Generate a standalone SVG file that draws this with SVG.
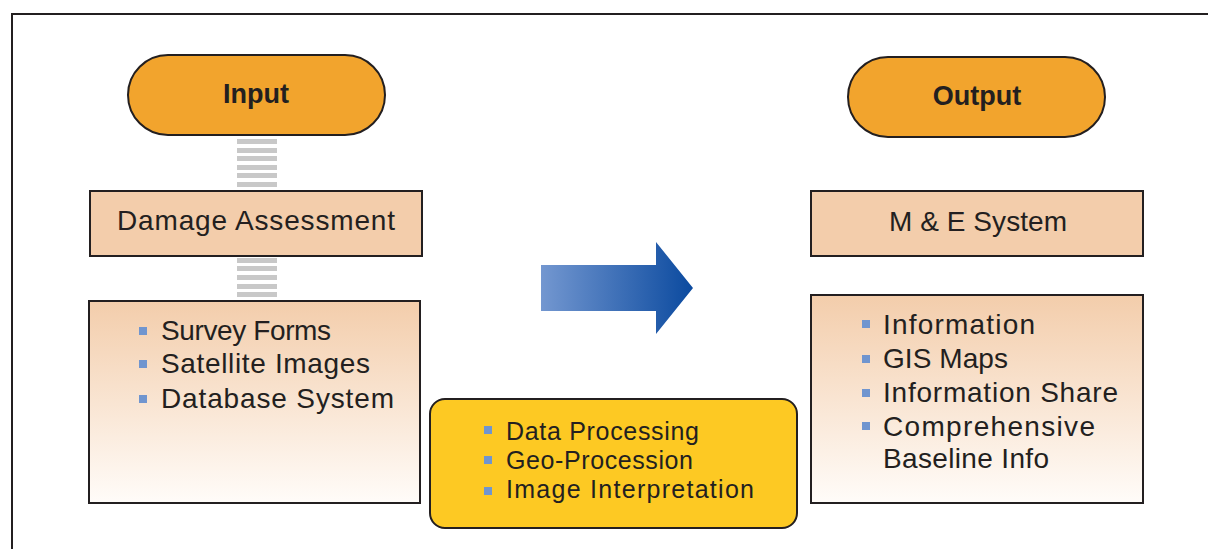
<svg xmlns="http://www.w3.org/2000/svg" width="1208" height="549" viewBox="0 0 1208 549">
<defs>
<linearGradient id="peach" x1="0" y1="0" x2="0" y2="1">
<stop offset="0" stop-color="#f3cdab"/>
<stop offset="1" stop-color="#fffcf9"/>
</linearGradient>
<linearGradient id="blue" x1="0" y1="0" x2="1" y2="0">
<stop offset="0" stop-color="#7397d0"/>
<stop offset="1" stop-color="#0b4a9f"/>
</linearGradient>
<style>
.frame{fill:none;stroke:#231f20;stroke-width:2}
.pill{fill:#f2a42d;stroke:#231f20;stroke-width:2}
.box{fill:#f3cdab;stroke:#231f20;stroke-width:2}
.gbox{fill:url(#peach);stroke:#231f20;stroke-width:2}
.ybox{fill:#fdc923;stroke:#231f20;stroke-width:2}
.stripe{fill:#c8c8c8}
.bul{fill:#7095cf}
text{font-family:"Liberation Sans",Arial,sans-serif;fill:#231f20}
.t{font-size:28px}
.ts{font-size:25px}
.tb{font-size:27px;font-weight:bold}
</style>
</defs>
<rect class="frame" x="12" y="14" width="1210" height="560"/>
<g id="connectors">
<g id="stripes-top">
<rect class="stripe" x="237" y="139" width="40" height="5"/>
<rect class="stripe" x="237" y="148" width="40" height="5"/>
<rect class="stripe" x="237" y="156" width="40" height="5"/>
<rect class="stripe" x="237" y="165" width="40" height="5"/>
<rect class="stripe" x="237" y="173" width="40" height="5"/>
<rect class="stripe" x="237" y="182" width="40" height="5"/>
</g>
<g id="stripes-bottom">
<rect class="stripe" x="237" y="258" width="40" height="5"/>
<rect class="stripe" x="237" y="266" width="40" height="5"/>
<rect class="stripe" x="237" y="275" width="40" height="5"/>
<rect class="stripe" x="237" y="284" width="40" height="5"/>
<rect class="stripe" x="237" y="292" width="40" height="5"/>
</g>
<polygon id="flow-arrow" fill="url(#blue)" points="541,265 656,265 656,242 693,288 656,334 656,311 541,311"/>
</g>
<g id="input">
<rect class="pill" x="128" y="55" width="257" height="80" rx="40" ry="40"/>
<text class="tb" x="256" y="103" text-anchor="middle">Input</text>
</g>
<g id="damage-assessment">
<rect class="box" x="90" y="191" width="332" height="65"/>
<text class="t" x="256" y="230" text-anchor="middle" textLength="278" lengthAdjust="spacing">Damage Assessment</text>
</g>
<g id="input-sources">
<rect class="gbox" x="89" y="301" width="331" height="202"/>
<rect class="bul" x="139" y="327" width="8" height="8"/>
<rect class="bul" x="139" y="360" width="8" height="8"/>
<rect class="bul" x="139" y="395" width="8" height="8"/>
<text class="t" x="161" y="340" textLength="170" lengthAdjust="spacing">Survey Forms</text>
<text class="t" x="161" y="373" textLength="209" lengthAdjust="spacing">Satellite Images</text>
<text class="t" x="161" y="408" textLength="233" lengthAdjust="spacing">Database System</text>
</g>
<g id="processing">
<rect class="ybox" x="430" y="399" width="367" height="129" rx="15" ry="15"/>
<rect class="bul" x="484" y="426" width="8" height="8"/>
<rect class="bul" x="484" y="456" width="8" height="8"/>
<rect class="bul" x="484" y="487" width="8" height="8"/>
<text class="ts" x="506" y="440" textLength="193" lengthAdjust="spacing">Data Processing</text>
<text class="ts" x="506" y="469" textLength="187" lengthAdjust="spacing">Geo-Procession</text>
<text class="ts" x="506" y="498" textLength="248" lengthAdjust="spacing">Image Interpretation</text>
</g>
<g id="output">
<rect class="pill" x="848" y="57" width="257" height="80" rx="40" ry="40"/>
<text class="tb" x="977" y="105" text-anchor="middle">Output</text>
</g>
<g id="me-system">
<rect class="box" x="811" y="191" width="332" height="65"/>
<text class="t" x="978" y="231" text-anchor="middle" textLength="178" lengthAdjust="spacing">M &amp; E System</text>
</g>
<g id="output-products">
<rect class="gbox" x="811" y="295" width="332" height="208"/>
<rect class="bul" x="862" y="320" width="8" height="8"/>
<rect class="bul" x="862" y="355" width="8" height="8"/>
<rect class="bul" x="862" y="389" width="8" height="8"/>
<rect class="bul" x="862" y="422" width="8" height="8"/>
<text class="t" x="883" y="334" textLength="152" lengthAdjust="spacing">Information</text>
<text class="t" x="883" y="368" textLength="125" lengthAdjust="spacing">GIS Maps</text>
<text class="t" x="883" y="402" textLength="235" lengthAdjust="spacing">Information Share</text>
<text class="t" x="883" y="436" textLength="212" lengthAdjust="spacing">Comprehensive</text>
<text class="t" x="883" y="468" textLength="166" lengthAdjust="spacing">Baseline Info</text>
</g>
</svg>
